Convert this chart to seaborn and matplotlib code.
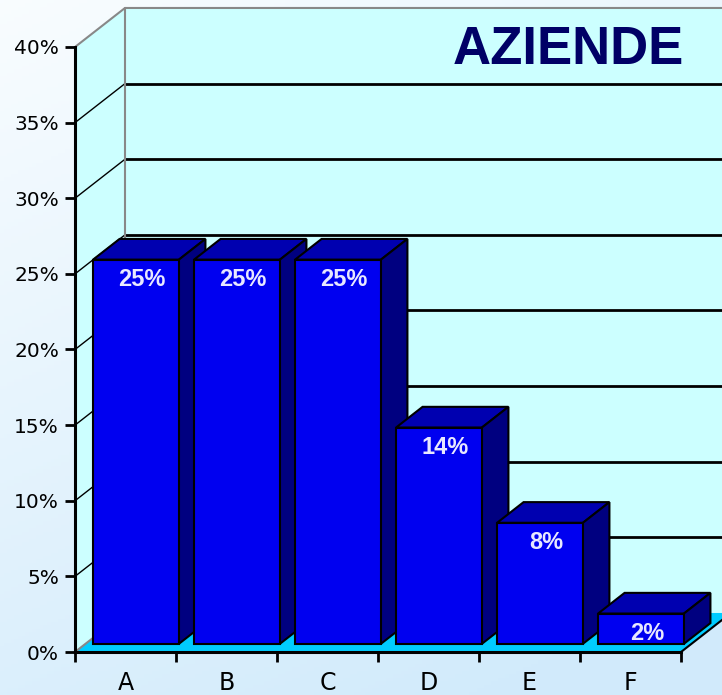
import numpy as np
import seaborn as sns
import matplotlib.pyplot as plt
from matplotlib.patches import Polygon

# data
categories = ['A', 'B', 'C', 'D', 'E', 'F']
values = [25.4, 25.4, 25.4, 14.3, 8.0, 2.0]
labels = ['25%', '25%', '25%', '14%', '8%', '2%']
y_ticks = [0, 5, 10, 15, 20, 25, 30, 35, 40]
title = 'AZIENDE'

# 3d look (axis units)
DX, DY = 0.495, 2.58          # full floor depth
F0, F1 = 0.21, 0.74           # bar front / back as fraction of depth
XMAX = -0.5 + 647 / 101
YMAX = 652 / 15.125

sns.set_style('white')
fig = plt.figure(figsize=(7.22, 6.95), dpi=100)

# background gradient
bg = fig.add_axes([0, 0, 1, 1])
gx, gy = np.meshgrid(np.linspace(0, 1, 200), np.linspace(0, 1, 200))
g = np.clip(0.75 * gy + 0.35 * gx, 0, 1)
c0 = np.array([0.975, 0.99, 1.0])
c1 = np.array([0.82, 0.92, 0.985])
img = c0[None, None, :] * (1 - g[..., None]) + c1[None, None, :] * g[..., None]
bg.imshow(img, aspect='auto', extent=[0, 1, 0, 1], origin='upper')
bg.set_axis_off()

ax = fig.add_axes([75 / 722, 43 / 695, 647 / 722, 652 / 695])
ax.set_facecolor('none')

x0 = -0.5
# walls and floor
ax.add_patch(Polygon([(x0 + DX, DY), (XMAX + 1, DY), (XMAX + 1, 40 + DY), (x0 + DX, 40 + DY)],
                     closed=True, fc='#CCFFFF', ec='none', zorder=0.5))
ax.add_patch(Polygon([(x0, 0), (x0 + DX, DY), (x0 + DX, 40 + DY), (x0, 40)],
                     closed=True, fc='#CCFFFF', ec='none', zorder=0.5))
ax.add_patch(Polygon([(x0, 0), (5.5, 0), (5.5 + DX, DY), (x0 + DX, DY)],
                     closed=True, fc='#00CCFF', ec='none', zorder=0.6))

for v in y_ticks[1:-1]:
    ax.plot([x0 + DX, XMAX + 1], [v + DY, v + DY], color='black', lw=2, zorder=0.8)
    ax.plot([x0, x0 + DX], [v, v + DY], color='black', lw=1, zorder=0.8)
ax.plot([x0, x0 + DX, XMAX + 1], [40, 40 + DY, 40 + DY], color='#888888', lw=1.5, zorder=0.8)
ax.plot([x0 + DX, x0 + DX], [DY, 40 + DY], color='#888888', lw=1.5, zorder=0.8)
ax.plot([x0, x0 + DX], [0, DY], color='#888888', lw=1.5, zorder=0.8)
ax.plot([5.5, 5.5 + DX], [0, DY], color='black', lw=1.5, zorder=0.8)

# bars: seaborn draws the front faces, sides and tops are added from them
sns.barplot(x=categories, y=values, width=0.85, color='#0000F0', saturation=1,
            edgecolor='black', linewidth=1.5, ax=ax)
bdx, bdy = (F1 - F0) * DX, (F1 - F0) * DY
for i, p in enumerate(ax.patches[-len(values):]):
    bx = p.get_x() + F0 * DX
    by = F0 * DY
    w, h = p.get_width(), p.get_height()
    p.set_x(bx)
    p.set_y(by)
    z = 2 + i * 0.1
    p.set_zorder(z + 0.05)
    top = [(bx, by + h), (bx + w, by + h), (bx + w + bdx, by + h + bdy), (bx + bdx, by + h + bdy)]
    side = [(bx + w, by), (bx + w + bdx, by + bdy), (bx + w + bdx, by + h + bdy), (bx + w, by + h)]
    ax.add_patch(Polygon(top, closed=True, fc='#0000B0', ec='black', lw=1.5, zorder=z))
    ax.add_patch(Polygon(side, closed=True, fc='#000080', ec='black', lw=1.5, zorder=z))
    ax.text(bx + w / 2 + 0.06, by + h - 1.3, labels[i], ha='center', va='center',
            color='#E8E8FF', fontsize=17, fontweight='bold',
            family='Liberation Sans', zorder=z + 0.06)

ax.set_xlim(x0, XMAX)
ax.set_ylim(0, YMAX)
for s in ['top', 'right']:
    ax.spines[s].set_visible(False)
ax.spines['left'].set_bounds(0, 40)
ax.spines['bottom'].set_bounds(-0.5, 5.5)
for s in ['left', 'bottom']:
    ax.spines[s].set_linewidth(2.2)
    ax.spines[s].set_color('black')
    ax.spines[s].set_zorder(5)

ax.set_yticks(y_ticks)
ax.set_yticklabels([f'{v}%' for v in y_ticks], fontsize=14.5, family='DejaVu Sans')
ax.tick_params(axis='y', direction='out', length=7.5, width=2, pad=4, left=True,
               color='black', labelcolor='black')
ax.set_xticks(range(len(categories)))
ax.set_xticklabels(categories, fontsize=17, family='DejaVu Sans')
ax.set_xticks(np.arange(-0.5, 6, 1), minor=True)
ax.tick_params(axis='x', which='major', length=0, pad=14, labelcolor='black')
ax.tick_params(axis='x', which='minor', direction='out', length=7, width=2, bottom=True,
               color='black')
ax.set_xlabel('')
ax.set_ylabel('')

fig.text(568 / 722, 1 - 50 / 695, title, ha='center', va='center', fontsize=38,
         fontweight='bold', color='#000066', family='Liberation Sans')

fig.savefig('out.png', dpi=100)
